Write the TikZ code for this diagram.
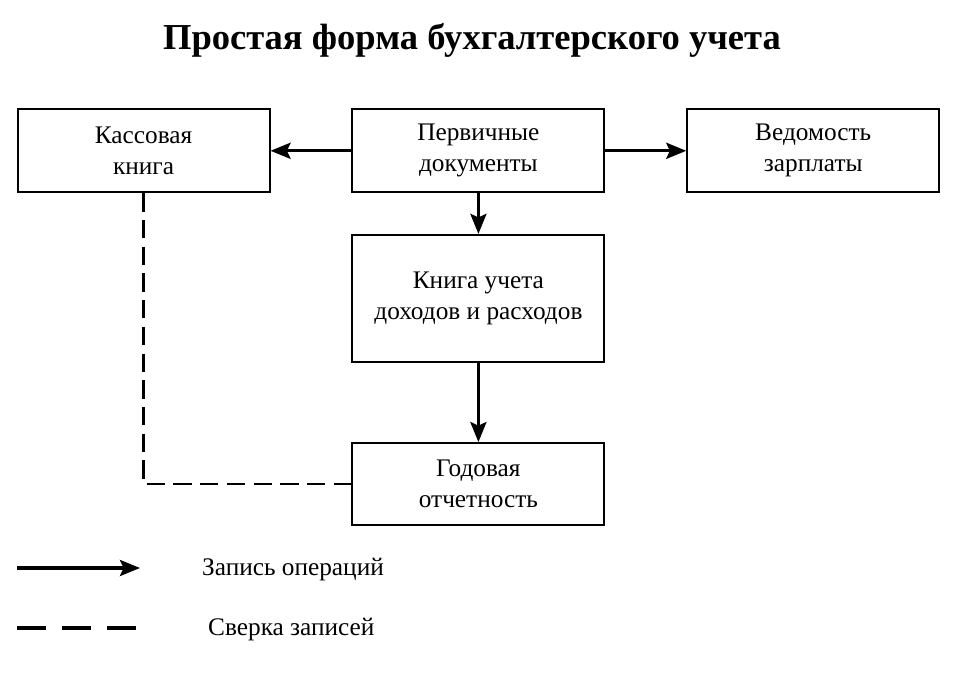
\documentclass[tikz,border=0pt]{standalone}
\usepackage{fontspec}
\setmainfont{Liberation Serif}
\usetikzlibrary{arrows.meta, positioning}

\tikzset{
  docbox/.style={draw, line width=1.3pt, minimum width=6.3cm, minimum height=2.08cm, align=center, font=\fontsize{18}{22}\selectfont},
  record/.style={-{Stealth[length=0.5cm, width=0.4cm, inset=0.09cm]}, line width=2.4pt},
  reconcile/.style={line width=1.6pt, dash pattern=on 13pt off 6pt},
  legendtext/.style={anchor=west, font=\fontsize{18}{22}\selectfont}
}

\begin{document}
\begin{tikzpicture}
  \useasboundingbox (0,0) rectangle (24.2,17.05);

  % Title
  \node[font=\fontsize{26}{30}\selectfont\bfseries] (title) at (11.8, 16.05) {Простая форма бухгалтерского учета};

  % Top row
  \node[docbox] (kassa) at (3.59, 13.28) {Кассовая\\книга};
  \node[docbox] (perv) at (11.96, 13.28) {Первичные\\документы};
  \node[docbox] (vedom) at (20.33, 13.28) {Ведомость\\зарплаты};

  % Middle and bottom
  \node[docbox, minimum height=3.18cm] (kniga) at (11.96, 9.59) {Книга учета\\доходов и расходов};
  \node[docbox, minimum height=2.05cm] (godov) at (11.96, 4.95) {Годовая\\отчетность};

  % Record of operations
  \draw[record] (perv) -- (kassa);
  \draw[record] (perv) -- (vedom);
  \draw[record] (perv) -- (kniga);
  \draw[record] (kniga) -- (godov);

  % Reconciliation
  \draw[reconcile] (kassa.south) |- (godov.west);

  % Legend
  \coordinate (solidA) at (0.43, 2.85);
  \coordinate (solidB) at (3.5, 2.85);
  \coordinate (dashA) at (0.43, 1.35);
  \coordinate (dashB) at (3.5, 1.35);
  \draw[record] (solidA) -- (solidB);
  \draw[line width=2.4pt, dash pattern=on 20.5pt off 11.5pt] (dashA) -- (dashB);
  \node[legendtext] (solidlbl) at (4.93, 2.8) {Запись операций};
  \node[legendtext] (dashlbl) at (5.08, 1.3) {Сверка записей};
\end{tikzpicture}
\end{document}
